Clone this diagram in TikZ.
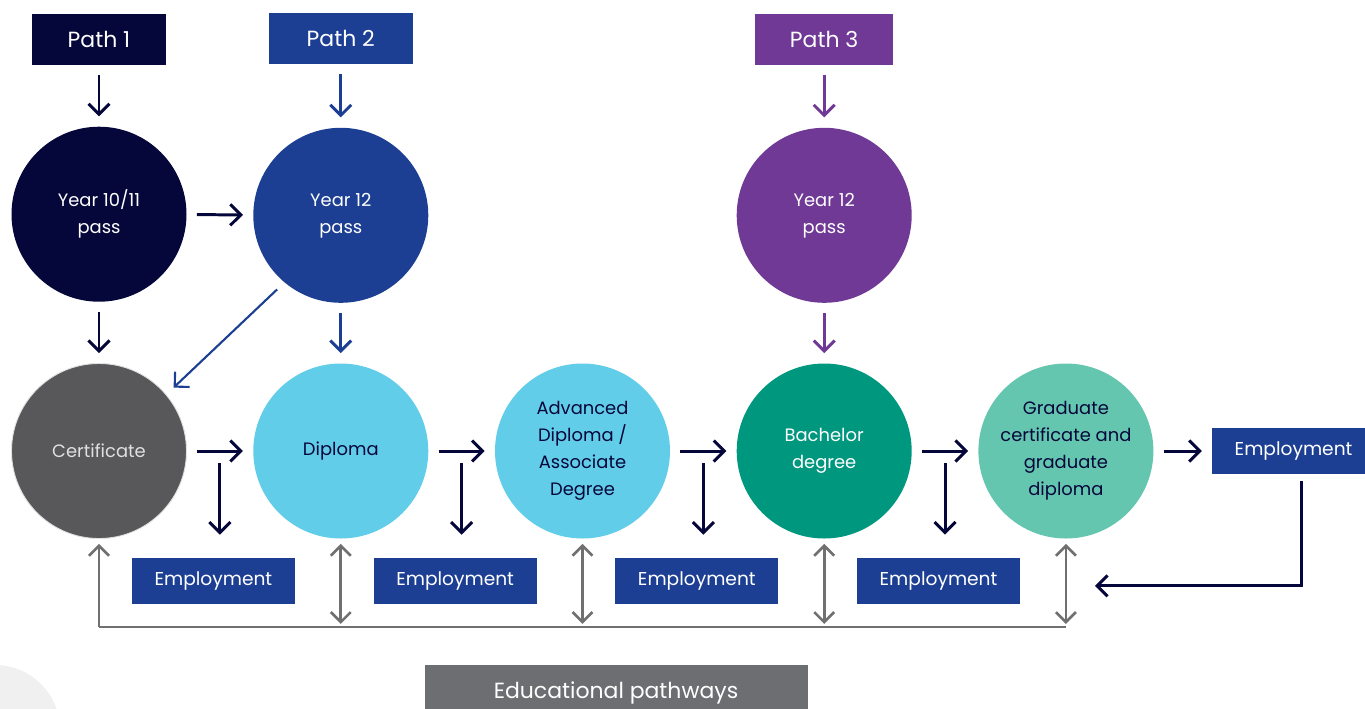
\documentclass[tikz,border=0pt]{standalone}
\usepackage{fontspec}
\setmainfont{Poppins}
\setsansfont{Poppins}
\usetikzlibrary{arrows.meta, positioning, calc}

\definecolor{navy}{HTML}{05063A}
\definecolor{pathblue}{HTML}{1C3F94}
\definecolor{pathpurple}{HTML}{6F3995}
\definecolor{certgray}{HTML}{58585A}
\definecolor{lightblue}{HTML}{62CDE9}
\definecolor{teal}{HTML}{00977F}
\definecolor{mint}{HTML}{65C6B0}
\definecolor{linegray}{HTML}{707070}
\definecolor{edugray}{HTML}{6D6E71}

\tikzset{
  base/.style = {
    font=\sffamily\fontsize{10.2}{15.3}\selectfont, text centered, align=center, inner sep=0pt
  },
  pathbox/.style = {
    base, minimum height=1.02cm, text=white, font=\sffamily\fontsize{12.5}{15}\selectfont
  },
  stage/.style = {
    base, circle, minimum size=3.5cm
  },
  empbox/.style = {
    base, fill=pathblue, text=white, minimum width=3.26cm, minimum height=0.92cm,
    font=\sffamily\fontsize{10.6}{13}\selectfont
  },
  arrow/.style = {
    draw=navy, line width=1.7pt, -{Straight Barb[length=2.1mm,width=4.2mm]},
    shorten >=0.2cm, shorten <=0.2cm
  },
  garrow/.style = {
    draw=linegray, line width=1.5pt, -{Straight Barb[length=2mm,width=4mm]}
  }
}

\begin{document}
\begin{tikzpicture}[
  node distance = 1.32cm
  ]
  \useasboundingbox (0,0) rectangle (27.3,-14.16);

  % soft corner circle
  \fill[black!6] (-0.1,-14.6) circle (1.3cm);

  % Bottom row (left to right)
  \node[stage, fill=certgray, text=white!88!black, draw=black!12, line width=0.5pt]
    (cert) at (1.98,-9.02) {Certificate};
  \node[stage, fill=lightblue, text=navy, right=of cert] (dipl) {Diploma};
  \node[stage, fill=lightblue, text=navy, right=of dipl] (adv) {Advanced\\Diploma /\\Associate\\Degree};
  \node[stage, fill=teal, text=white, right=of adv] (bach) {Bachelor\\degree};
  \node[stage, fill=mint, text=navy, right=of bach] (grad) {Graduate\\certificate and\\graduate\\diploma};
  \node[empbox, right=1.16cm of grad] (emp5) {Employment};

  % Top row
  \node[stage, fill=navy, text=white, above=1.22cm of cert] (yr10) {Year 10/11\\pass};
  \node[stage, fill=pathblue, text=white, above=1.2cm of dipl] (yr12b) {Year 12\\pass};
  \node[stage, fill=pathpurple, text=white, above=1.2cm of bach] (yr12p) {Year 12\\pass};

  % Paths
  \node[pathbox, fill=navy, minimum width=2.66cm, above=1.22cm of yr10] (path1) {Path 1};
  \node[pathbox, fill=pathblue, minimum width=2.88cm, above=1.26cm of yr12b] (path2) {Path 2};
  \node[pathbox, fill=pathpurple, minimum width=2.76cm, above=1.24cm of yr12p] (path3) {Path 3};

  % Employment boxes between the circles
  \node[empbox] (emp1) at ($(cert)!0.5!(dipl)+(-0.13,-2.6)$) {Employment};
  \node[empbox] (emp2) at ($(dipl)!0.5!(adv)+(-0.13,-2.6)$) {Employment};
  \node[empbox] (emp3) at ($(adv)!0.5!(bach)+(-0.13,-2.6)$) {Employment};
  \node[empbox] (emp4) at ($(bach)!0.5!(grad)+(-0.13,-2.6)$) {Employment};

  % Educational pathways
  \node[base, fill=edugray, text=white, minimum width=7.66cm, minimum height=1.1cm,
    font=\sffamily\fontsize{12.5}{15}\selectfont] (edu) at (12.32,-13.85) {Educational pathways};

  % Arrows (paths down)
  \draw[arrow] (path1) -- (yr10);
  \draw[arrow, draw=pathblue] (path2) -- (yr12b);
  \draw[arrow, draw=pathpurple] (path3) -- (yr12p);
  \draw[arrow] (yr10) -- (yr12b);
  \draw[arrow] (yr10) -- (cert);
  \draw[arrow, draw=pathblue] (yr12b) -- (dipl);
  \draw[arrow, draw=pathblue, line width=1.2pt] (yr12b.230) -- (cert.40);
  \draw[arrow, draw=pathpurple] (yr12p) -- (bach);

  % Arrows (bottom row)
  \draw[arrow] (cert) -- (dipl);
  \draw[arrow] (dipl) -- (adv);
  \draw[arrow] (adv) -- (bach);
  \draw[arrow] (bach) -- (grad);
  \draw[arrow] (grad) -- (emp5);

  % Arrows down to employment
  \foreach \a/\b/\e in {cert/dipl/emp1, dipl/adv/emp2, adv/bach/emp3, bach/grad/emp4} {
    \coordinate (\e-top) at ($(\a)!0.5!(\b)+(0,-0.04)$);
    \draw[arrow, shorten >=0.46cm] (\e-top) -- (\e-top |- \e.north);
  }

  % Return from employment
  \coordinate (ret) at ($(grad.south)+(0.58,-0.94)$);
  \draw[arrow, shorten <=0.14cm, shorten >=0cm] ([xshift=0.16cm]emp5.south) |- (ret);

  % Educational pathways line
  \coordinate (base) at ($(cert.south)+(0,-1.76)$);
  \draw[draw=linegray, line width=1.5pt] (base) -- (base -| grad.south);
  \draw[garrow, shorten >=0.1cm] (base) -- (cert.south);
  \foreach \n in {dipl, adv, bach, grad} {
    \draw[garrow, {Straight Barb[length=2mm,width=4mm]}-{Straight Barb[length=2mm,width=4mm]},
      shorten <=0.1cm, shorten >=0.06cm] (\n.south) -- (base -| \n.south);
  }

\end{tikzpicture}
\end{document}
